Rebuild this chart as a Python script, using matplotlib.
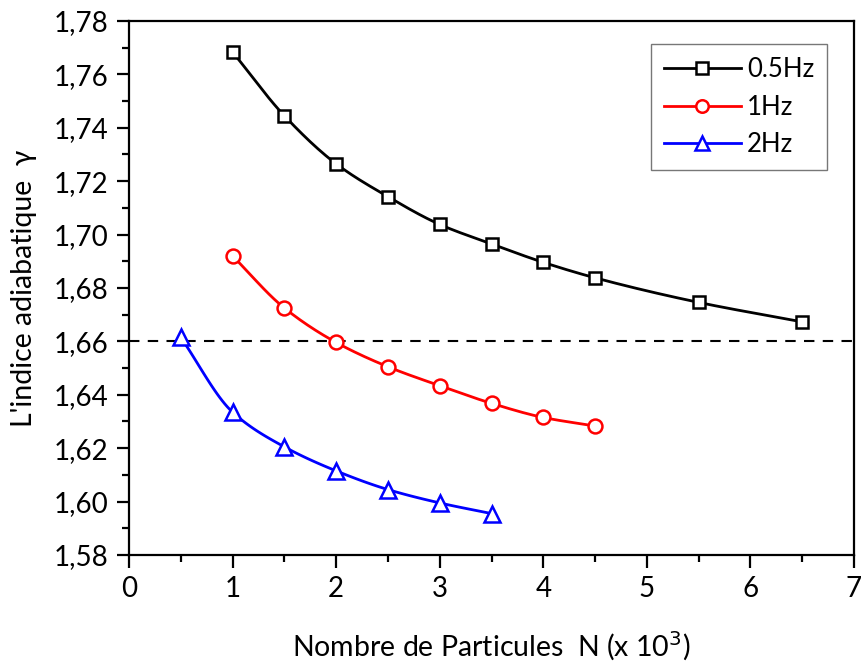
import numpy as np
import matplotlib
matplotlib.use("Agg")
import matplotlib.pyplot as plt
from matplotlib.ticker import FuncFormatter, MultipleLocator

plt.rcParams["font.family"] = ["Lato", "DejaVu Sans"]

# adiabatic index vs particle number (x 10^3), one series per frequency
n_05hz = [1.0, 1.5, 2.0, 2.5, 3.0, 3.5, 4.0, 4.5, 5.5, 6.5]
g_05hz = [1.7684, 1.7445, 1.7265, 1.7142, 1.7038, 1.6965, 1.6896, 1.6838, 1.6746, 1.6673]

n_1hz = [1.0, 1.5, 2.0, 2.5, 3.0, 3.5, 4.0, 4.5]
g_1hz = [1.6920, 1.6725, 1.6596, 1.6505, 1.6434, 1.6368, 1.6315, 1.6283]

n_2hz = [0.5, 1.0, 1.5, 2.0, 2.5, 3.0, 3.5]
g_2hz = [1.6615, 1.6335, 1.6205, 1.6115, 1.6045, 1.5995, 1.5955]

gamma_ref = 1.66


def smooth(x, y, k=20):
    # monotone cubic (Fritsch-Carlson) curve through the points, for drawing
    x = np.asarray(x, float)
    y = np.asarray(y, float)
    h = np.diff(x)
    d = np.diff(y) / h
    m = np.zeros_like(y)
    m[0], m[-1] = d[0], d[-1]
    for i in range(1, len(y) - 1):
        if d[i - 1] * d[i] > 0:
            w1 = 2 * h[i] + h[i - 1]
            w2 = h[i] + 2 * h[i - 1]
            m[i] = (w1 + w2) / (w1 / d[i - 1] + w2 / d[i])
    xs, ys = [], []
    for i in range(len(h)):
        t = np.linspace(0, 1, k, endpoint=(i == len(h) - 1))
        h00 = 2 * t**3 - 3 * t**2 + 1
        h10 = t**3 - 2 * t**2 + t
        h01 = -2 * t**3 + 3 * t**2
        h11 = t**3 - t**2
        xs.append(x[i] + t * h[i])
        ys.append(h00 * y[i] + h10 * h[i] * m[i] + h01 * y[i + 1] + h11 * h[i] * m[i + 1])
    return np.concatenate(xs), np.concatenate(ys)


fig = plt.figure(figsize=(8.61, 6.68), dpi=100)
ax = fig.add_axes([0.1498, 0.1692, 0.8421, 0.7994])

series = [
    (n_05hz, g_05hz, "black", "s", 9, "0.5Hz"),
    (n_1hz, g_1hz, "red", "o", 10, "1Hz"),
    (n_2hz, g_2hz, "blue", "^", 11, "2Hz"),
]
for xs, ys, col, mk, ms, lab in series:
    sx, sy = smooth(xs, ys)
    ax.plot(sx, sy, color=col, lw=2.0, zorder=2)
    ax.plot(xs, ys, ls="none", marker=mk, ms=ms,
            mfc="white", mec=col, mew=1.8, zorder=3)
    ax.plot([], [], color=col, lw=2.0, marker=mk, ms=ms - 1,
            mfc="white", mec=col, mew=1.8, label=lab)

ax.axhline(gamma_ref, color="black", lw=1.5, ls=(0, (5, 4)), zorder=1)

ax.set_xlim(0, 7)
ax.set_ylim(1.58, 1.78)
ax.xaxis.set_major_locator(MultipleLocator(1))
ax.xaxis.set_minor_locator(MultipleLocator(0.5))
ax.yaxis.set_major_locator(MultipleLocator(0.02))
ax.yaxis.set_minor_locator(MultipleLocator(0.01))
ax.yaxis.set_major_formatter(FuncFormatter(lambda v, p: f"{v:.2f}".replace(".", ",")))
ax.tick_params(which="both", direction="out", top=False, right=False, width=1.6)
ax.tick_params(which="major", length=9, labelsize=20, pad=6)
ax.tick_params(which="minor", length=5)
for s in ax.spines.values():
    s.set_linewidth(1.6)

ax.set_xlabel("Nombre de Particules  N (x 10$^3$)", fontsize=20.5, labelpad=20)
ax.set_ylabel("L'indice adiabatique  γ", fontsize=20.5, labelpad=12)

leg = ax.legend(loc="upper right", bbox_to_anchor=(0.963, 0.957), fontsize=18.5,
                frameon=True, fancybox=False, edgecolor="#555555",
                handlelength=3.0, borderpad=0.5, labelspacing=0.5, handletextpad=0.25,
                borderaxespad=0)
leg.get_frame().set_linewidth(1.0)

fig.savefig("out.png", dpi=100)
